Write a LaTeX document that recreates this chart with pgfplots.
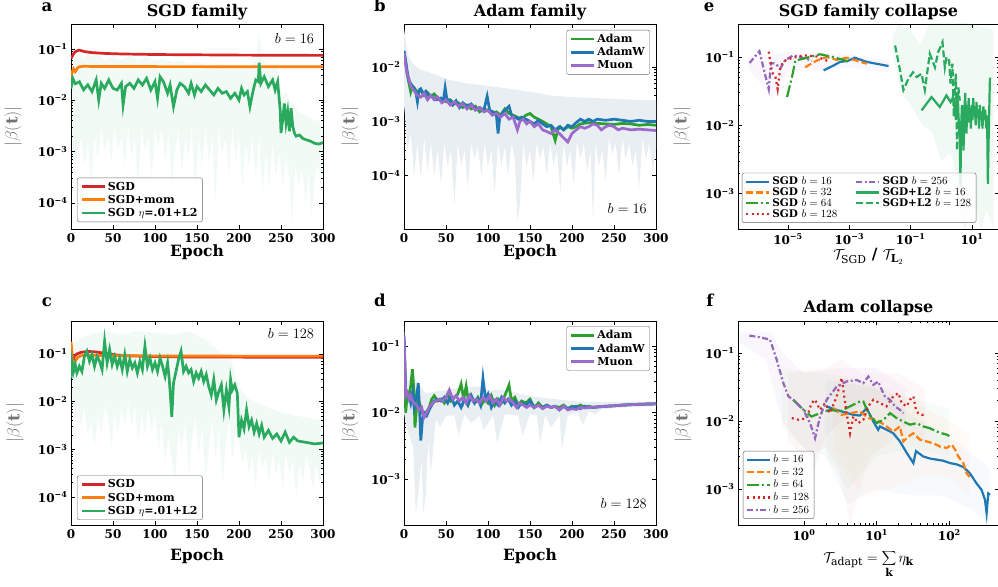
\documentclass[border=0pt]{standalone}
\usepackage{fontspec}
\setmainfont{DejaVu Serif}
\usepackage{pgfplots}
\pgfplotsset{compat=1.18}

\definecolor{cRed}{HTML}{D62728}
\definecolor{cOrange}{HTML}{FF7F0E}
\definecolor{cL2}{HTML}{2AAA5E}
\definecolor{cGreen}{HTML}{2CA02C}
\definecolor{cBlue}{HTML}{1F77B4}
\definecolor{cPurple}{HTML}{9467BD}
\definecolor{cMuon}{HTML}{9B6BCB}
\definecolor{bandB}{HTML}{E9EEF2}

\newcommand{\tp}[1]{10\textsuperscript{#1}}
\newcommand{\ylab}{$|\beta(\mathbf{t})|$}

\pgfplotsset{every axis/.append style={
    scale only axis,
    axis line style={line width=0.9pt},
    every tick/.style={black, line width=0.7pt},
    major tick length=4pt, minor tick length=2.2pt,
    tick align=inside,
    tick label style={font=\fontsize{12}{14}\selectfont\bfseries},
    xticklabel style={yshift=-1.5pt},
    every axis x label/.style={at={(0.5,0)}, anchor=base, font=\fontsize{15.5}{18}\selectfont\bfseries},
    every axis title/.style={at={(0.5,1)}, anchor=base, yshift=7pt, font=\fontsize{16}{18}\selectfont\bfseries},
    legend style={font=\fontsize{11}{13}\selectfont\bfseries, draw=black!60, rounded corners=2pt,
      fill=white, fill opacity=0.85, text opacity=1, inner xsep=3pt, inner ysep=2pt, row sep=-0.5pt},
    legend cell align=left,
    legend image code/.code={\draw[##1] (0pt,0pt) -- (23pt,0pt);},
}}
\tikzset{ann/.style={inner sep=0pt, font=\fontsize{13.5}{15}\selectfont},
  plab/.style={anchor=base, font=\fontsize{16.5}{19}\selectfont\bfseries}}

\begin{document}
\begin{tikzpicture}
\useasboundingbox (0,0) rectangle (998pt,586pt);

% ---------- a ----------
\begin{axis}[ymode=log, at={(71pt,357pt)}, anchor=south west, width=252pt, height=205pt,
  xmin=0, xmax=300, xtick={0,50,...,300}, xticklabels={0,50,100,150,200,250,300},
  ymin=3.1e-5, ymax=0.307, ytick={1e-4,1e-3,1e-2,1e-1}, yticklabels={\tp{−4},\tp{−3},\tp{−2},\tp{−1}},
  title={SGD family}, xlabel={Epoch}, xlabel style={yshift=-28pt}, ylabel={\ylab},
  every axis y label/.style={at={(0,0.5)}, xshift=-58pt, rotate=90, anchor=center, font=\fontsize{16}{18}\selectfont, text=black!55},
  legend style={at={(0.024,0.034)}, anchor=south west}]
\addplot[draw=none, fill=cL2, fill opacity=0.06, forget plot] coordinates {
 (0,0.05)(5,0.06)(10,0.08)(15,0.06)(20,0.1)(25,0.07)(30,0.09)(40,0.06)(50,0.07)(60,0.06)(70,0.075)
 (80,0.06)(90,0.07)(100,0.06)(110,0.065)(120,0.055)(130,0.06)(140,0.05)(150,0.055)(160,0.05)(170,0.045)
 (180,0.05)(190,0.04)(200,0.045)(210,0.04)(220,0.06)(224,0.2)(228,0.06)(235,0.05)(245,0.05)(249,0.02)
 (252,0.012)(256,0.015)(260,0.01)(265,0.008)(270,0.006)(280,0.005)(290,0.004)(300,0.004)
 (300,5e-4)(297,2e-4)(294,6e-4)(290,3e-4)(286,5e-5)(283,4e-4)(279,1e-4)(275,5e-4)(271,2e-4)(267,6e-4)
 (263,4e-5)(260,3e-4)(256,8e-4)(252,2e-4)(248,1e-3)(244,3e-4)(240,1.5e-3)(236,2e-4)(232,1e-3)(228,1.5e-4)
 (224,2e-3)(220,3e-4)(216,2e-3)(212,5e-4)(208,1.5e-3)(204,2e-4)(200,2e-3)(196,6e-4)(192,3e-3)(188,3e-4)
 (184,2e-3)(180,8e-4)(176,3e-3)(172,1e-4)(168,2e-3)(164,6e-4)(160,3e-3)(156,5e-4)(152,2e-3)(148,1.5e-4)
 (144,3e-3)(140,8e-4)(136,2e-3)(132,4e-4)(128,3e-3)(124,1e-3)(120,2e-4)(116,2.5e-3)(112,6e-4)(108,3e-3)
 (104,1.2e-3)(100,3e-3)(96,3e-4)(92,2e-3)(88,1e-3)(84,3e-3)(80,2e-4)(76,2e-3)(72,8e-4)(68,3e-3)(64,5e-4)
 (60,2e-3)(56,1e-3)(52,3e-3)(48,6e-4)(44,2e-3)(40,1e-3)(36,3e-3)(32,7e-4)(28,2e-3)(24,2e-4)(20,1.5e-3)
 (16,5e-4)(12,2e-3)(8,1e-3)(4,4e-4)(0,3e-3)};
\addplot[cRed, line width=2.7pt] coordinates {
 (0,0.065)(1,0.07)(2,0.075)(4,0.085)(6,0.09)(8,0.093)(10,0.095)(13,0.092)(16,0.089)(20,0.087)(25,0.085)
 (30,0.084)(40,0.082)(50,0.081)(60,0.08)(80,0.079)(100,0.078)(150,0.077)(200,0.076)(250,0.0755)(300,0.075)};
\addlegendentry{SGD}
\addplot[cOrange, line width=2.7pt] coordinates {
 (0,0.027)(1,0.033)(2,0.038)(3,0.041)(4,0.038)(5,0.036)(6,0.038)(7,0.041)(8,0.043)(10,0.045)(15,0.046)
 (30,0.0455)(300,0.045)};
\addlegendentry{SGD+mom}
\addplot[cL2, line width=2.7pt] coordinates {
 (0,0.017)(2,0.027)(5,0.021)(10,0.023)(15,0.016)(20,0.020)(25,0.0148)(30,0.025)(33,0.0101)(36,0.0214)
 (40,0.0171)(45,0.025)(50,0.0171)(55,0.0159)(60,0.0214)(62,0.0081)(65,0.0185)(70,0.0214)(75,0.0171)
 (80,0.025)(85,0.0199)(90,0.0268)(95,0.0159)(100,0.0231)(103,0.0109)(106,0.0289)(110,0.0231)(115,0.0137)
 (118,0.0199)(122,0.0075)(126,0.0159)(130,0.0214)(135,0.0185)(140,0.0137)(143,0.0214)(147,0.0127)
 (150,0.0185)(155,0.0148)(160,0.0199)(165,0.0159)(170,0.0127)(175,0.0171)(180,0.0137)(185,0.0148)
 (190,0.0109)(195,0.0137)(200,0.0101)(203,0.0171)(206,0.0127)(210,0.0148)(213,0.0075)(217,0.0159)
 (220,0.0249)(223,0.0231)(224,0.054)(226,0.0214)(230,0.0289)(235,0.0185)(240,0.0249)(243,0.0159)
 (246,0.0231)(249,0.0065)(250,0.0023)(252,0.0041)(254,0.0087)(256,0.0036)(258,0.006)(260,0.0025)
 (262,0.007)(264,0.0031)(266,0.0023)(268,0.0020)(272,0.0021)(276,0.0018)(280,0.0017)(285,0.0016)
 (290,0.00145)(295,0.0014)(300,0.0015)};
\addlegendentry{SGD $\eta$=.01+L2}
\node[ann, anchor=north east] at (rel axis cs:0.965,0.955) {$b=16$};
\end{axis}

% ---------- b ----------
\begin{axis}[ymode=log, at={(404pt,357pt)}, anchor=south west, width=252pt, height=205pt,
  xmin=0, xmax=300, xtick={0,50,...,300}, xticklabels={0,50,100,150,200,250,300},
  ymin=1.05e-5, ymax=0.062, ytick={1e-4,1e-3,1e-2}, yticklabels={\tp{−4},\tp{−3},\tp{−2}},
  title={Adam family}, xlabel={Epoch}, xlabel style={yshift=-28pt}, ylabel={\ylab},
  every axis y label/.style={at={(0,0.5)}, xshift=-54pt, rotate=90, anchor=center, font=\fontsize{16}{18}\selectfont, text=black!55},
  legend style={at={(0.976,0.971)}, anchor=north east}]
\addplot[draw=none, fill=bandB, forget plot] coordinates {
 (0,0.05)(3,0.025)(6,0.015)(10,0.012)(15,0.01)(20,0.009)(30,0.008)(40,0.007)(50,0.006)(75,0.005)
 (100,0.0045)(125,0.004)(150,0.0035)(175,0.003)(200,0.0028)(225,0.0027)(250,0.0026)(275,0.0025)(300,0.0025)
 (300,3e-4)(296,1.2e-4)(292,4e-4)(288,2e-4)(284,5e-4)(280,6e-5)(276,3e-4)(272,1.5e-4)(268,4e-4)(264,2e-4)
 (260,5e-4)(256,1e-4)(252,4e-4)(248,2.5e-4)(244,5e-4)(240,8e-5)(236,3e-4)(232,1.5e-4)(228,4e-4)(225,1.5e-5)
 (222,3e-4)(218,1.2e-4)(214,4e-4)(210,2e-4)(206,4.5e-4)(202,7e-5)(198,3e-4)(194,1.5e-4)(190,4e-4)(186,5e-5)
 (182,3e-4)(178,1.5e-4)(174,4e-4)(170,1e-4)(166,3.5e-4)(162,2e-4)(158,4e-4)(154,8e-5)(150,3e-4)(146,1.5e-4)
 (142,4e-4)(138,3e-5)(135,1.5e-5)(132,2e-4)(128,4e-4)(124,1e-4)(120,3.5e-4)(116,1.5e-4)(112,4e-4)(108,5e-5)
 (104,3e-4)(100,1.5e-4)(96,4e-4)(92,1e-4)(88,3.5e-4)(84,2e-4)(80,4e-4)(76,6e-5)(72,3e-4)(68,1.5e-4)
 (64,4e-4)(60,3e-5)(56,3e-4)(52,1.5e-4)(48,4e-4)(44,7e-5)(40,3e-4)(36,1e-4)(32,4e-4)(28,1.2e-4)(24,5e-4)
 (20,9e-5)(16,4e-4)(12,1e-4)(8,6e-4)(4,3e-4)(2,1e-3)(0,2e-3)};
\addplot[cGreen, line width=2.7pt] coordinates {
 (0,0.019)(2,0.012)(4,0.007)(6,0.005)(8,0.0035)(10,0.0045)(13,0.004)(16,0.0034)(20,0.0037)(24,0.003)
 (28,0.0034)(32,0.0029)(36,0.0032)(40,0.0027)(45,0.0025)(50,0.0023)(55,0.0025)(60,0.0021)(65,0.0022)
 (70,0.0018)(75,0.002)(80,0.0017)(85,0.0019)(90,0.0015)(95,0.0017)(100,0.0016)(105,0.0014)(110,0.0015)
 (115,0.0013)(120,0.0017)(125,0.0014)(130,0.0013)(135,0.0012)(140,0.0011)(145,0.0013)(150,0.0014)
 (155,0.0012)(160,0.0011)(165,0.001)(170,0.0009)(175,0.0008)(180,0.00045)(183,0.0007)(186,0.0008)
 (190,0.0007)(195,0.0008)(200,0.00075)(205,0.0008)(210,0.0009)(220,0.00095)(230,0.00092)(240,0.0009)
 (250,0.00088)(260,0.00092)(270,0.0009)(280,0.00085)(290,0.00088)(300,0.00085)};
\addlegendentry{Adam}
\addplot[cBlue, line width=2.7pt] coordinates {
 (0,0.020)(2,0.013)(4,0.008)(6,0.0055)(8,0.005)(10,0.0045)(12,0.004)(14,0.0035)(16,0.0023)(18,0.0038)
 (20,0.004)(23,0.0032)(26,0.0036)(30,0.0028)(33,0.003)(36,0.0026)(40,0.0025)(44,0.0027)(47,0.0025)
 (49,0.0042)(51,0.0026)(55,0.0024)(58,0.002)(62,0.0024)(66,0.0018)(70,0.0022)(75,0.0019)(80,0.0021)
 (85,0.0017)(90,0.0018)(95,0.0016)(99,0.0029)(102,0.0016)(106,0.0015)(110,0.0013)(112,0.0006)(114,0.0012)
 (118,0.0015)(122,0.0017)(125,0.0019)(128,0.0013)(132,0.0012)(136,0.0011)(140,0.0012)(145,0.0011)
 (150,0.001)(155,0.0009)(160,0.00105)(165,0.0009)(170,0.0008)(175,0.00085)(180,0.0007)(185,0.0008)
 (190,0.0007)(195,0.00085)(200,0.0008)(205,0.00095)(210,0.0011)(215,0.001)(220,0.0011)(225,0.001)
 (230,0.0011)(240,0.00105)(250,0.0011)(260,0.00105)(270,0.001)(280,0.00105)(290,0.001)(300,0.001)};
\addlegendentry{AdamW}
\addplot[cMuon, line width=2.7pt] coordinates {
 (0,0.018)(2,0.011)(4,0.007)(6,0.006)(8,0.0045)(10,0.004)(13,0.0035)(16,0.003)(20,0.0028)(24,0.0033)
 (28,0.0025)(32,0.003)(36,0.0025)(40,0.0028)(45,0.0022)(50,0.0025)(55,0.002)(60,0.0023)(65,0.0019)
 (70,0.0021)(75,0.0017)(80,0.002)(85,0.0016)(90,0.0018)(95,0.0015)(100,0.0016)(105,0.0013)(110,0.0014)
 (115,0.0012)(120,0.0014)(125,0.0011)(130,0.0012)(135,0.0007)(138,0.001)(142,0.0011)(146,0.0009)
 (150,0.001)(155,0.0008)(160,0.0009)(165,0.0007)(170,0.00065)(175,0.0006)(180,0.0007)(185,0.0006)
 (190,0.0005)(195,0.00042)(200,0.0006)(205,0.0007)(210,0.0008)(215,0.00075)(220,0.0008)(225,0.0009)
 (230,0.00085)(235,0.0007)(240,0.0008)(245,0.00085)(250,0.0008)(255,0.0007)(260,0.00075)(270,0.0007)
 (280,0.00072)(290,0.0007)(300,0.00068)};
\addlegendentry{Muon}
\node[ann, anchor=base east] at (rel axis cs:0.964,0.078) {$b=16$};
\end{axis}

% ---------- e ----------
\begin{axis}[xmode=log, ymode=log, at={(738pt,357pt)}, anchor=south west, width=261pt, height=205pt,
  xmin=2.34e-7, xmax=76, ymin=3.05e-4, ymax=0.305,
  xtick={1e-5,1e-3,1e-1,10}, xticklabels={\tp{−5},\tp{−3},\tp{−1},\tp{1}}, xminorticks=false,
  ytick={1e-3,1e-2,1e-1}, yticklabels={\tp{−3},\tp{−2},\tp{−1}},
  title={SGD family collapse}, xlabel={$\mathcal{T}_{\mathrm{SGD}}$ / $\mathcal{T}_{\mathbf{L}_2}$},
  xlabel style={yshift=-31pt}, ylabel={\ylab},
  every axis y label/.style={at={(0,0.5)}, xshift=-56pt, rotate=90, anchor=center, font=\fontsize{16}{18}\selectfont, text=black!55},
  legend columns=2,
  legend style={at={(0.015,0.03)}, anchor=south west, font=\fontsize{10.5}{11}\selectfont\bfseries,
    row sep=-2.5pt, /tikz/column 2/.style={column sep=16pt}}]
\addplot[draw=none, fill=cL2, fill opacity=0.07, forget plot] coordinates {
 (0.025,0.2)(0.04,0.3)(0.1,0.25)(0.2,0.15)(0.4,0.3)(1,0.35)(3,0.35)(10,0.3)(50,0.25)
 (50,3e-4)(30,6e-4)(20,3e-4)(10,1e-3)(6,2.9e-4)(4,5e-4)(3,0.002)(2,0.004)(1,0.003)(0.5,0.008)
 (0.25,0.01)(0.1,0.02)(0.05,0.03)(0.03,0.08)};
\addplot[draw=none, fill=cPurple, fill opacity=0.05, forget plot] coordinates {
 (5e-7,0.1)(1e-5,0.12)(1e-3,0.11)(2e-2,0.09)(2e-2,0.06)(1e-3,0.07)(1e-5,0.06)(3e-6,0.025)(5e-7,0.07)};
\addplot[cBlue, line width=2.2pt] coordinates {
 (1.45e-4,0.064)(3e-4,0.075)(5e-4,0.085)(9e-4,0.088)(1.5e-3,0.098)(3.7e-3,0.085)(1.9e-2,0.074)};
\addlegendentry{SGD $b=16$}
\addplot[cPurple, line width=2.2pt, dash pattern=on 6pt off 2.5pt on 2pt off 2.5pt] coordinates {
 (5.6e-7,0.082)(1.17e-6,0.122)(1.6e-6,0.068)(2.35e-6,0.034)(2.8e-6,0.082)(3.9e-6,0.08)(5.6e-6,0.068)
 (8.2e-6,0.091)(1.5e-5,0.106)(2.5e-5,0.1)(6e-5,0.089)};
\addlegendentry{SGD $b=256$}
\addplot[cOrange, line width=2.2pt, dash pattern=on 7pt off 3pt] coordinates {
 (3.6e-5,0.071)(8.7e-5,0.089)(1.85e-4,0.1)(3.9e-4,0.091)(8.2e-4,0.098)(3.7e-3,0.08)};
\addlegendentry{SGD $b=32$}
\addplot[cL2, line width=2.2pt] coordinates {
 (0.226,0.0166)(0.48,0.026)(0.89,0.0186)(1.47,0.0275)(2.0,0.022)(2.43,0.026)(2.7,0.018)(3.0,0.012)
 (3.2,0.03)(3.5,0.02)(3.8,0.009)(4.0,0.006)(4.2,0.0013)(4.4,0.009)(4.7,0.02)(5.0,0.008)(5.3,0.0043)
 (5.6,0.015)(6.0,0.03)(6.3,0.012)(6.6,0.0076)(7.0,0.02)(7.4,0.012)(7.8,0.025)(8.2,0.011)(8.7,0.018)
 (9.2,0.009)(9.8,0.02)(10.4,0.012)(11,0.025)(11.7,0.014)(12.4,0.018)(13.2,0.01)(14,0.022)(15,0.013)
 (16,0.017)(17,0.009)(18,0.02)(19.2,0.012)(20.5,0.016)(22,0.009)(23.5,0.019)(25,0.012)(27,0.017)
 (29,0.009)(31,0.014)(33,0.0014)(34.5,0.005)(36,0.012)(37.5,0.03)(38.5,0.05)};
\addlegendentry{SGD+L2 $b=16$}
\addplot[cGreen, line width=2.2pt, dash pattern=on 12pt off 3pt on 2pt off 3pt] coordinates {
 (9.3e-6,0.026)(1.35e-5,0.051)(1.73e-5,0.089)(3.2e-5,0.095)(1.1e-4,0.11)(3e-4,0.1)(1.05e-3,0.085)};
\addlegendentry{SGD $b=64$}
\addplot[cL2, line width=2.2pt, dash pattern=on 7pt off 3pt] coordinates {
 (0.031,0.148)(0.045,0.064)(0.058,0.033)(0.084,0.048)(0.12,0.06)(0.156,0.051)(0.226,0.057)(0.29,0.033)
 (0.42,0.112)(0.62,0.071)(0.79,0.118)(1.09,0.166)(1.3,0.071)(1.47,0.1)(1.8,0.089)(1.99,0.041)(2.3,0.08)
 (2.55,0.0132)(2.96,0.057)(3.27,0.0043)(3.6,0.036)(4.0,0.023)};
\addlegendentry{SGD+L2 $b=128$}
\addplot[cRed, line width=2.2pt, dash pattern=on 2pt off 3.3pt] coordinates {
 (2.35e-6,0.12)(3e-6,0.06)(3.9e-6,0.051)(4.6e-6,0.034)(5.6e-6,0.071)(7.2e-6,0.087)(1.35e-5,0.097)
 (3.2e-5,0.106)(8.7e-5,0.102)(2.3e-4,0.085)};
\addlegendentry{SGD $b=128$}
\end{axis}

% ---------- c ----------
\begin{axis}[ymode=log, at={(71pt,61pt)}, anchor=south west, width=252pt, height=204pt,
  xmin=0, xmax=300, xtick={0,50,...,300}, xticklabels={0,50,100,150,200,250,300},
  ymin=2.6e-5, ymax=0.49, ytick={1e-4,1e-3,1e-2,1e-1}, yticklabels={\tp{−4},\tp{−3},\tp{−2},\tp{−1}},
  xlabel={Epoch}, xlabel style={yshift=-35pt}, ylabel={\ylab},
  every axis y label/.style={at={(0,0.5)}, xshift=-56pt, rotate=90, anchor=center, font=\fontsize{16}{18}\selectfont, text=black!55},
  legend style={at={(0.024,0.025)}, anchor=south west}]
\addplot[draw=none, fill=cL2, fill opacity=0.06, forget plot] coordinates {
 (0,0.15)(10,0.2)(20,0.25)(40,0.3)(60,0.25)(80,0.3)(100,0.28)(120,0.25)(140,0.3)(160,0.2)(180,0.1)
 (190,0.08)(200,0.02)(210,0.012)(230,0.008)(250,0.006)(270,0.005)(300,0.004)
 (300,6e-4)(296,2e-4)(292,5e-4)(288,1.5e-4)(284,4e-4)(280,8e-4)(276,2e-4)(272,5e-4)(268,1e-4)(264,6e-4)
 (260,3e-4)(256,8e-4)(252,1.5e-4)(248,6e-4)(244,3e-4)(240,9e-4)(236,2e-4)(232,7e-4)(228,4e-4)(224,1e-3)
 (220,1.5e-4)(216,8e-4)(212,3e-4)(208,1e-3)(204,5e-4)(200,1.5e-3)(196,3e-3)(192,6e-4)(188,4e-3)(184,1e-3)
 (180,2e-4)(176,3e-3)(172,6e-4)(168,4e-3)(164,1e-3)(160,2e-4)(156,3e-3)(152,8e-4)(148,5e-3)(144,1.5e-3)
 (140,3e-4)(136,4e-3)(132,1e-3)(128,3e-3)(124,2e-4)(120,6e-4)(116,2e-3)(112,5e-4)(108,4e-3)(104,1e-3)
 (100,6e-3)(96,2e-3)(92,8e-3)(88,2e-3)(84,6e-3)(80,1.5e-3)(76,8e-3)(72,3e-3)(68,1e-2)(64,3e-3)(60,8e-3)
 (56,2e-3)(52,6e-3)(48,1e-3)(44,5e-3)(40,8e-3)(36,2e-3)(32,5e-3)(28,1.2e-3)(24,4e-3)(20,2e-3)(16,8e-3)
 (12,3e-3)(8,1e-2)(4,5e-3)(0,0.01)};
\addplot[cRed, line width=2.7pt] coordinates {
 (0,0.045)(2,0.065)(4,0.09)(7,0.1)(12,0.108)(20,0.113)(30,0.11)(45,0.1)(60,0.092)(100,0.088)(150,0.086)(300,0.085)};
\addlegendentry{SGD}
\addplot[cOrange, line width=2.7pt] coordinates {
 (0,0.18)(1,0.12)(2,0.06)(3,0.05)(5,0.07)(8,0.085)(12,0.092)(20,0.094)(50,0.092)(100,0.091)(200,0.09)(300,0.09)};
\addlegendentry{SGD+mom}
\addplot[cL2, line width=2.7pt] coordinates {
 (0,0.031)(1,0.070)(3,0.043)(5,0.060)(7,0.040)(10,0.055)(13,0.043)(16,0.089)(19,0.114)(22,0.070)(25,0.097)
 (28,0.055)(31,0.089)(34,0.070)(37,0.047)(40,0.185)(43,0.065)(46,0.124)(49,0.060)(52,0.089)(55,0.055)
 (58,0.082)(61,0.047)(64,0.097)(67,0.043)(70,0.076)(73,0.051)(76,0.065)(79,0.040)(82,0.070)(85,0.047)
 (88,0.145)(91,0.055)(94,0.082)(97,0.047)(100,0.065)(103,0.043)(106,0.082)(109,0.055)(112,0.034)(115,0.065)
 (117,0.029)(120,0.0048)(122,0.0244)(125,0.043)(128,0.076)(131,0.114)(134,0.043)(137,0.055)(140,0.040)
 (143,0.047)(146,0.0265)(149,0.040)(152,0.031)(155,0.043)(158,0.0265)(161,0.037)(164,0.0207)(167,0.0138)
 (170,0.029)(173,0.0108)(176,0.0163)(179,0.0225)(182,0.0067)(185,0.0176)(188,0.0078)(190,0.029)(192,0.0176)
 (195,0.0225)(198,0.0150)(200,0.0018)(203,0.0041)(206,0.0027)(209,0.0067)(212,0.0030)(215,0.0041)
 (218,0.0023)(221,0.0035)(224,0.0021)(227,0.0032)(230,0.0018)(235,0.0025)(240,0.0017)(245,0.0021)
 (250,0.0015)(255,0.0023)(260,0.0014)(265,0.0018)(270,0.0015)(280,0.0014)(290,0.0013)(300,0.00136)};
\addlegendentry{SGD $\eta$=.01+L2}
\node[ann, anchor=north east] at (rel axis cs:0.965,0.966) {$b=128$};
\end{axis}

% ---------- d ----------
\begin{axis}[ymode=log, at={(404pt,61pt)}, anchor=south west, width=252pt, height=204pt,
  xmin=0, xmax=300, xtick={0,50,...,300}, xticklabels={0,50,100,150,200,250,300},
  ymin=2.04e-4, ymax=0.24, ytick={1e-3,1e-2,1e-1}, yticklabels={\tp{−3},\tp{−2},\tp{−1}},
  xlabel={Epoch}, xlabel style={yshift=-35pt}, ylabel={\ylab},
  every axis y label/.style={at={(0,0.5)}, xshift=-54pt, rotate=90, anchor=center, font=\fontsize{16}{18}\selectfont, text=black!55},
  legend style={at={(0.976,0.975)}, anchor=north east}]
\addplot[draw=none, fill=bandB, forget plot] coordinates {
 (0,0.2)(2,0.05)(5,0.03)(10,0.04)(15,0.03)(20,0.025)(25,0.02)(30,0.02)(40,0.021)(50,0.022)(70,0.024)
 (90,0.025)(100,0.022)(120,0.022)(140,0.019)(160,0.017)(180,0.016)(200,0.015)(220,0.0145)(250,0.0145)(300,0.0148)
 (300,0.0125)(260,0.012)(235,0.0112)(228,0.0095)(220,0.0105)(213,0.0065)(206,0.0102)(195,0.009)(188,0.0028)
 (185,0.009)(175,0.006)(168,0.009)(162,0.0035)(158,0.009)(150,0.0095)(141,0.0045)(136,0.009)(120,0.0095)
 (111,0.0035)(106,0.009)(95,0.0055)(90,0.009)(80,0.007)(72,0.0095)(65,0.0045)(60,0.009)(50,0.009)(43,0.006)
 (38,0.008)(32,0.0012)(29,0.004)(26,0.0006)(23,0.0003)(21,0.002)(17,0.0006)(14,0.0003)(11,0.003)(8,0.004)
 (5,0.005)(2,0.007)(0,0.01)};
\addplot[cGreen, line width=2.7pt] coordinates {
 (0,0.13)(1,0.05)(2,0.01)(4,0.02)(6,0.019)(8,0.025)(10,0.045)(12,0.02)(13,0.006)(15,0.012)(17,0.016)
 (20,0.012)(23,0.009)(26,0.01)(30,0.012)(33,0.016)(36,0.018)(40,0.015)(44,0.016)(48,0.014)(52,0.019)
 (56,0.015)(60,0.017)(64,0.019)(68,0.027)(71,0.016)(74,0.025)(77,0.014)(80,0.018)(84,0.014)(88,0.017)
 (92,0.013)(96,0.016)(100,0.014)(104,0.018)(108,0.013)(112,0.016)(116,0.014)(120,0.018)(125,0.026)
 (128,0.015)(132,0.017)(136,0.013)(140,0.015)(145,0.014)(150,0.016)(155,0.012)(160,0.014)(165,0.012)
 (170,0.013)(175,0.012)(180,0.0125)(185,0.012)(190,0.013)(195,0.0115)(200,0.0125)(205,0.012)(210,0.013)
 (215,0.012)(220,0.0125)(225,0.012)(230,0.0122)(240,0.0125)(250,0.0127)(260,0.013)(270,0.0132)
 (280,0.0134)(290,0.0135)(300,0.0136)};
\addlegendentry{Adam}
\addplot[cBlue, line width=2.7pt] coordinates {
 (0,0.14)(1,0.06)(2,0.022)(4,0.02)(6,0.018)(8,0.014)(10,0.02)(12,0.012)(14,0.016)(16,0.022)(17,0.028)
 (19,0.008)(20,0.0038)(22,0.008)(24,0.01)(27,0.009)(30,0.011)(33,0.013)(36,0.015)(40,0.016)(44,0.015)
 (48,0.017)(52,0.014)(56,0.018)(60,0.013)(64,0.015)(68,0.012)(72,0.016)(76,0.013)(80,0.018)(84,0.014)
 (88,0.016)(91,0.013)(94,0.033)(97,0.016)(100,0.019)(104,0.012)(108,0.015)(112,0.013)(116,0.017)
 (120,0.014)(124,0.016)(128,0.013)(132,0.015)(136,0.012)(140,0.014)(145,0.013)(150,0.015)(155,0.012)
 (160,0.013)(165,0.012)(170,0.013)(175,0.012)(180,0.0125)(185,0.011)(190,0.0125)(195,0.0115)(200,0.012)
 (205,0.0125)(210,0.0115)(215,0.0125)(220,0.012)(230,0.0122)(240,0.0125)(250,0.0127)(260,0.013)
 (270,0.0132)(280,0.0134)(290,0.0135)(300,0.0136)};
\addlegendentry{AdamW}
\addplot[cMuon, line width=2.7pt] coordinates {
 (0,0.145)(1,0.05)(2,0.018)(4,0.02)(6,0.016)(8,0.018)(10,0.015)(12,0.014)(15,0.013)(18,0.011)(21,0.012)
 (24,0.0085)(27,0.01)(30,0.012)(34,0.014)(38,0.015)(42,0.016)(46,0.015)(50,0.017)(54,0.022)(58,0.016)
 (62,0.018)(66,0.015)(70,0.017)(74,0.014)(78,0.018)(82,0.015)(86,0.016)(90,0.014)(94,0.017)(98,0.015)
 (102,0.018)(106,0.014)(110,0.016)(114,0.013)(118,0.017)(122,0.015)(126,0.016)(130,0.014)(134,0.012)
 (138,0.014)(142,0.013)(146,0.012)(150,0.013)(155,0.012)(160,0.013)(165,0.0115)(170,0.0125)(175,0.012)
 (180,0.0125)(185,0.011)(190,0.0125)(195,0.011)(200,0.0115)(205,0.0112)(210,0.012)(215,0.0118)(220,0.012)
 (230,0.0122)(240,0.0125)(250,0.0127)(260,0.013)(270,0.0132)(280,0.0134)(290,0.0135)(300,0.0136)};
\addlegendentry{Muon}
\node[ann, anchor=base east] at (rel axis cs:0.964,0.083) {$b=128$};
\end{axis}

% ---------- f ----------
\begin{axis}[xmode=log, ymode=log, at={(738pt,61pt)}, anchor=south west, width=261pt, height=204pt,
  xmin=0.1235, xmax=483, ymin=2.95e-4, ymax=0.295,
  xtick={1,10,100}, xticklabels={\tp{0},\tp{1},\tp{2}},
  ytick={1e-3,1e-2,1e-1}, yticklabels={\tp{−3},\tp{−2},\tp{−1}},
  title={Adam collapse}, title style={yshift=1pt},
  xlabel={$\mathcal{T}_{\mathrm{adapt}}=\displaystyle\sum_{\mathbf{k}}\eta_{\mathbf{k}}$},
  xlabel style={yshift=-37pt}, ylabel={\ylab},
  every axis y label/.style={at={(0,0.5)}, xshift=-55pt, rotate=90, anchor=center, font=\fontsize{16}{18}\selectfont, text=black!55},
  legend style={at={(0.019,0.03)}, anchor=south west, font=\fontsize{10.5}{12}\selectfont}]
\addplot[draw=none, fill=cPurple, fill opacity=0.05, forget plot] coordinates {
 (0.13,0.2)(0.35,0.2)(0.5,0.1)(1,0.05)(3,0.06)(10,0.06)(25,0.03)(25,0.008)(10,0.02)(5,0.015)(2,0.006)
 (1.4,0.002)(1,0.004)(0.5,0.01)(0.3,0.08)(0.13,0.14)};
\addplot[draw=none, fill=cRed, fill opacity=0.035, forget plot] coordinates {
 (0.6,0.05)(2,0.06)(3.3,0.08)(6,0.05)(20,0.05)(46,0.03)(46,0.005)(20,0.006)(8,0.003)(4.3,0.0003)(3,0.002)
 (2,0.004)(1,0.003)(0.6,0.005)};
\addplot[draw=none, fill=cGreen, fill opacity=0.035, forget plot] coordinates {
 (0.5,0.06)(2,0.05)(6,0.04)(20,0.025)(100,0.015)(100,0.003)(30,0.004)(10,0.003)(4,0.001)(2,0.003)(1,0.004)(0.5,0.008)};
\addplot[draw=none, fill=cOrange, fill opacity=0.035, forget plot] coordinates {
 (2.5,0.04)(10,0.03)(30,0.02)(100,0.01)(190,0.006)(190,0.0008)(100,0.0015)(40,0.0015)(15,0.001)(6,0.0008)(2.5,0.004)};
\addplot[draw=none, fill=cBlue, fill opacity=0.035, forget plot] coordinates {
 (2,0.04)(10,0.03)(30,0.012)(100,0.006)(360,0.002)(360,0.0003)(200,0.0005)(80,0.0008)(30,0.0008)(10,0.001)(4,0.0006)(2,0.003)};
\addplot[cBlue, line width=2.2pt] coordinates {
 (2.05,0.0164)(2.53,0.015)(3.3,0.0138)(4.77,0.0123)(5.9,0.012)(7.28,0.0155)(9.0,0.0098)(10.5,0.0074)
 (11.1,0.0083)(15.3,0.007)(16.9,0.0066)(20.9,0.0050)(25.9,0.0034)(32.0,0.0024)(34.8,0.0036)(43.9,0.0030)
 (54.2,0.0028)(66.9,0.0027)(82.6,0.0026)(102,0.0024)(126,0.0023)(156,0.0021)(192,0.0017)(238,0.0012)
 (278,0.00097)(310,0.00069)(326,0.00044)(344,0.00086)(363,0.00082)};
\addlegendentry{$b=16$}
\addplot[cOrange, line width=2.2pt, dash pattern=on 7pt off 3pt] coordinates {
 (2.53,0.0155)(3.3,0.0123)(4.30,0.013)(5.90,0.0138)(7.68,0.011)(10.0,0.0104)(13.7,0.0083)(16.9,0.0070)
 (20.9,0.0083)(23.3,0.0050)(27.3,0.0059)(32.0,0.0066)(39.5,0.0053)(48.8,0.0050)(60.2,0.0047)(74.4,0.0042)
 (91.8,0.0040)(108,0.0045)(120,0.0038)(133,0.0030)(156,0.0024)(173,0.0017)(190,0.0015)};
\addlegendentry{$b=32$}
\addplot[cGreen, line width=2.2pt, dash pattern=on 12pt off 3pt on 2pt off 3pt] coordinates {
 (0.71,0.0205)(0.98,0.0146)(1.27,0.0116)(1.66,0.013)(2.28,0.0146)(3.13,0.0138)(4.30,0.0164)(5.90,0.0194)
 (6.55,0.0194)(7.68,0.013)(10.0,0.0093)(12.4,0.0104)(15.3,0.013)(18.8,0.011)(23.3,0.0098)(28.8,0.0088)
 (35.5,0.0093)(43.9,0.0083)(54.2,0.0078)(66.9,0.0070)(78.4,0.0066)(91.8,0.0063)(100,0.006)};
\addlegendentry{$b=64$}
\addplot[cRed, line width=2.2pt, dash pattern=on 2pt off 3.3pt] coordinates {
 (0.68,0.011)(0.84,0.0104)(1.09,0.011)(1.27,0.0183)(1.42,0.0205)(1.66,0.0146)(1.95,0.0183)(2.28,0.013)
 (2.82,0.023)(3.3,0.043)(3.86,0.013)(4.30,0.0066)(4.77,0.0116)(5.59,0.0093)(6.55,0.0104)(7.68,0.0164)
 (9.0,0.0205)(11.1,0.0183)(13.7,0.0164)(16.9,0.023)(19.9,0.0257)(22.1,0.0183)(25.9,0.0164)(28.8,0.0205)
 (32.0,0.023)(34.8,0.0146)(37.4,0.013)(41.6,0.0123)(46.3,0.0123)};
\addlegendentry{$b=128$}
\addplot[cPurple, line width=2.2pt, dash pattern=on 6pt off 2.5pt on 2pt off 2.5pt] coordinates {
 (0.177,0.18)(0.248,0.17)(0.34,0.157)(0.42,0.08)(0.52,0.036)(0.61,0.023)(0.71,0.0205)(0.98,0.0146)
 (1.21,0.0093)(1.42,0.0056)(1.66,0.0116)(2.05,0.0205)(2.82,0.032)(3.86,0.038)(5.3,0.040)(6.55,0.036)
 (7.68,0.045)(9.0,0.034)(10.5,0.038)(11.7,0.029)(13.0,0.023)(15.3,0.0205)(17.9,0.0164)(20.9,0.0146)(23.3,0.013)};
\addlegendentry{$b=256$}
\end{axis}

\node[plab] at (47pt,574pt) {a};
\node[plab] at (380pt,574pt) {b};
\node[plab] at (709pt,574pt) {e};
\node[plab] at (47pt,279pt) {c};
\node[plab] at (380pt,279pt) {d};
\node[plab] at (710pt,279pt) {f};
\end{tikzpicture}
\end{document}
